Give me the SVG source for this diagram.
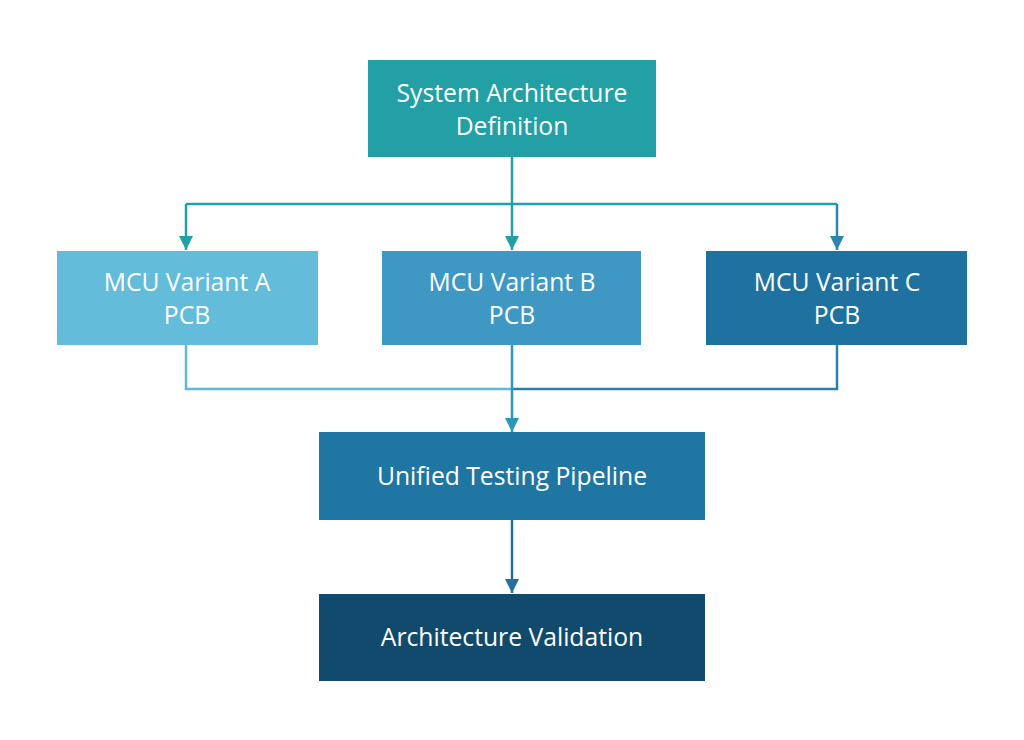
<svg xmlns="http://www.w3.org/2000/svg" width="1024" height="740" viewBox="0 0 1024 740">
<defs>
<style>
.lbl{font-family:"Open Sans","Noto Sans","Liberation Sans",sans-serif;font-size:24.7px;fill:#ffffff;text-anchor:middle}
.ln{fill:none;stroke-width:2.5}
</style>
<marker id="aT" viewBox="0 0 14 14" refX="14" refY="7" markerWidth="14" markerHeight="14" markerUnits="userSpaceOnUse" orient="auto"><path d="M0,0 L14,7 L0,14 z" fill="#22a0aa"/></marker>
<marker id="aC" viewBox="0 0 14 14" refX="14" refY="7" markerWidth="14" markerHeight="14" markerUnits="userSpaceOnUse" orient="auto"><path d="M0,0 L14,7 L0,14 z" fill="#2a86b0"/></marker>
<marker id="aM" viewBox="0 0 14 14" refX="14" refY="7" markerWidth="14" markerHeight="14" markerUnits="userSpaceOnUse" orient="auto"><path d="M0,0 L14,7 L0,14 z" fill="#2a98b8"/></marker>
<marker id="aD" viewBox="0 0 14 14" refX="14" refY="7" markerWidth="14" markerHeight="14" markerUnits="userSpaceOnUse" orient="auto"><path d="M0,0 L14,7 L0,14 z" fill="#236fa0"/></marker>
</defs>
<rect width="1024" height="740" fill="#ffffff"/>
<g id="connectors">
<path class="ln" stroke="#22a0aa" d="M512,157 V204"/>
<path class="ln" stroke="#22a0aa" d="M186,204 H837"/>
<path class="ln" stroke="#22a0aa" d="M186,204 V250" marker-end="url(#aT)"/>
<path class="ln" stroke="#22a0aa" d="M512,204 V250" marker-end="url(#aT)"/>
<path class="ln" stroke="#2a86b0" d="M837,204 V250" marker-end="url(#aC)"/>
<path class="ln" stroke="#5bb9d9" d="M186,345 V389 H512"/>
<path class="ln" stroke="#2a80ad" d="M837,345 V389 H512"/>
<path class="ln" stroke="#2a98bf" d="M512,345 V432" marker-end="url(#aM)"/>
<path class="ln" stroke="#236fa0" d="M512,520 V593" marker-end="url(#aD)"/>
</g>
<g id="n_top">
<rect x="368" y="60" width="288" height="97" fill="#22a0a6"/>
<text class="lbl" x="512" y="102">System Architecture</text>
<text class="lbl" x="512" y="135">Definition</text>
</g>
<g id="n_a">
<rect x="57" y="251" width="261" height="94" fill="#62bcda"/>
<text class="lbl" x="187" y="291">MCU Variant A</text>
<text class="lbl" x="187" y="324">PCB</text>
</g>
<g id="n_b">
<rect x="382" y="251" width="259" height="94" fill="#3f98c4"/>
<text class="lbl" x="512" y="291">MCU Variant B</text>
<text class="lbl" x="512" y="324">PCB</text>
</g>
<g id="n_c">
<rect x="706" y="251" width="261" height="94" fill="#1f72a0"/>
<text class="lbl" x="837" y="291">MCU Variant C</text>
<text class="lbl" x="837" y="324">PCB</text>
</g>
<g id="n_unified">
<rect x="319" y="432" width="386" height="88" fill="#1f76a3"/>
<text class="lbl" x="512" y="485">Unified Testing Pipeline</text>
</g>
<g id="n_valid">
<rect x="319" y="594" width="386" height="87" fill="#124a6e"/>
<text class="lbl" x="512" y="646">Architecture Validation</text>
</g>
</svg>
